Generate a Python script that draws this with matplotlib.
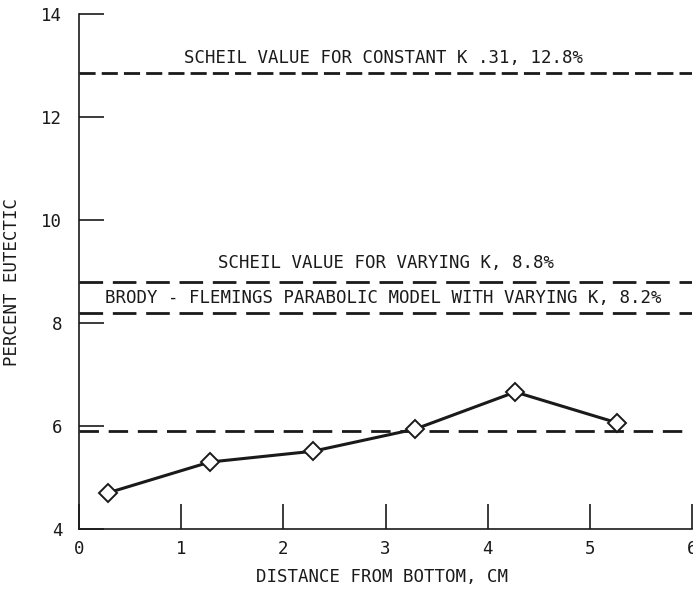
import matplotlib
matplotlib.use("Agg")
import matplotlib.pyplot as plt

# measured eutectic fraction along the casting
distance_cm = [0.28, 1.28, 2.29, 3.29, 4.27, 5.27]
pct_eutectic = [4.70, 5.30, 5.51, 5.94, 6.66, 6.06]

# reference model levels
scheil_const = 12.85
scheil_vary = 8.8
brody_flemings = 8.2
mean_level = 5.9

x_ticks = [0, 1, 2, 3, 4, 5, 6]
y_ticks = [4, 6, 8, 10, 12, 14]

font = "DejaVu Sans Mono"
ink = "#1a1a1a"

fig = plt.figure(figsize=(6.93, 5.94), dpi=100)
ax = fig.add_axes([79 / 693, 65 / 594, 613 / 693, 515 / 594])

ax.set_xlim(0, 6)
ax.set_ylim(4, 14)

# horizontal dashed reference levels
ax.axhline(scheil_const, color=ink, lw=2.0, dashes=(5.8, 2.2))
ax.axhline(scheil_vary, color=ink, lw=2.0, dashes=(8.5, 3.5))
ax.axhline(brody_flemings, color=ink, lw=2.0, dashes=(8.5, 3.5))
ax.axhline(mean_level, color=ink, lw=2.0, dashes=(7.0, 3.5))

ax.plot(distance_cm, pct_eutectic, color=ink, lw=2.2, marker="D",
        markersize=9.5, markerfacecolor="white", markeredgecolor=ink,
        markeredgewidth=1.4, zorder=5, clip_on=False)

ax.text(2.98, 13.15, "SCHEIL VALUE FOR CONSTANT K .31, 12.8%",
        ha="center", va="center", fontsize=12.5, family=font, color=ink)
ax.text(3.0, 9.17, "SCHEIL VALUE FOR VARYING K, 8.8%",
        ha="center", va="center", fontsize=12.5, family=font, color=ink)
ax.text(2.98, 8.49, "BRODY - FLEMINGS PARABOLIC MODEL WITH VARYING K, 8.2%",
        ha="center", va="center", fontsize=12.5, family=font, color=ink)

for side in ("top", "right"):
    ax.spines[side].set_visible(False)
for side in ("left", "bottom"):
    ax.spines[side].set_linewidth(1.2)
    ax.spines[side].set_color(ink)

ax.set_xticks(x_ticks)
ax.set_yticks(y_ticks)
ax.set_xticklabels([str(v) for v in x_ticks], family=font, fontsize=12.5)
ax.set_yticklabels([str(v) for v in y_ticks], family=font, fontsize=12.5)
ax.tick_params(axis="both", direction="in", length=18, width=1.2,
               colors=ink)
ax.tick_params(axis="y", pad=12)
ax.tick_params(axis="x", pad=8)

fig.text(12 / 693, 1 - 282 / 594, "PERCENT EUTECTIC", rotation=90,
         ha="center", va="center", fontsize=12.5, family=font, color=ink)
fig.text(382 / 693, 1 - 577 / 594, "DISTANCE FROM BOTTOM, CM",
         ha="center", va="center", fontsize=12.5, family=font, color=ink)

fig.savefig("out.png", dpi=100, facecolor="white")
